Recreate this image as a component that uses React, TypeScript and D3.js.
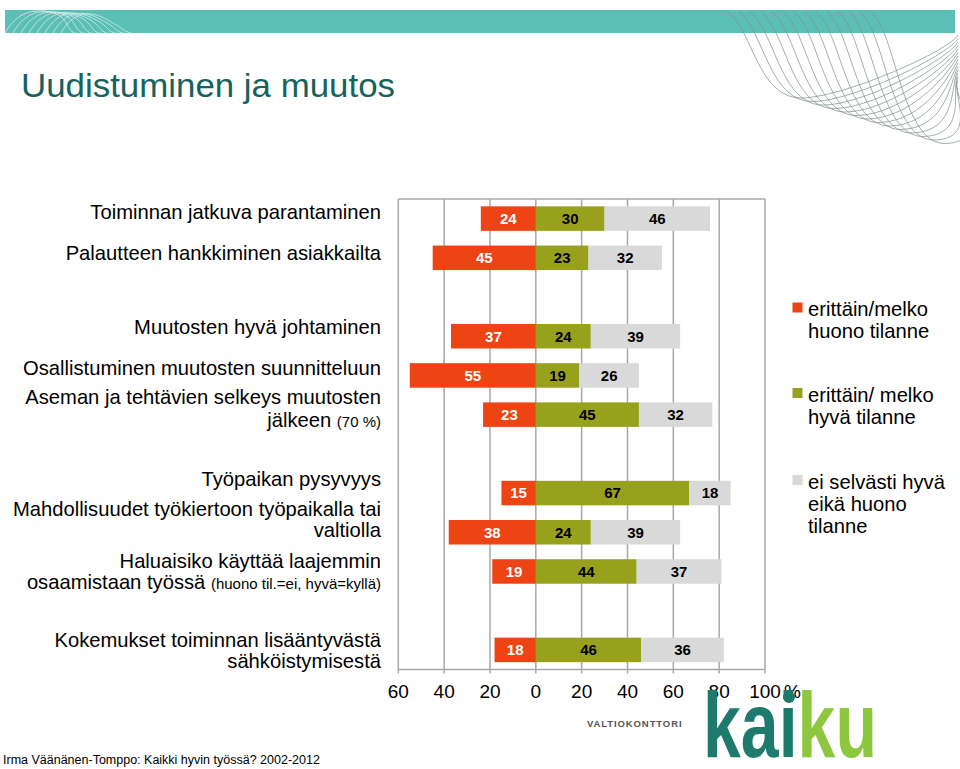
import React from "react";
import * as d3 from "d3";

// ---- data ----
const categoryLines: [string, string?][][] = [
  [["Toiminnan jatkuva parantaminen"]],
  [["Palautteen hankkiminen asiakkailta"]],
  [["Muutosten hyvä johtaminen"]],
  [["Osallistuminen muutosten suunnitteluun"]],
  [["Aseman ja tehtävien selkeys muutosten"], ["jälkeen ", "(70 %)"]],
  [["Työpaikan pysyvyys"]],
  [["Mahdollisuudet työkiertoon työpaikalla tai"], ["valtiolla"]],
  [["Haluaisiko käyttää laajemmin"], ["osaamistaan työssä ", "(huono til.=ei, hyvä=kyllä)"]],
  [["Kokemukset toiminnan lisääntyvästä"], ["sähköistymisestä"]],
];
const groupOf = [0, 0, 1, 1, 1, 2, 2, 2, 3];
const badValues = [24, 45, 37, 55, 23, 15, 38, 19, 18];
const goodValues = [30, 23, 24, 19, 45, 67, 24, 44, 46];
const neutralValues = [46, 32, 39, 26, 32, 18, 39, 37, 36];
const tickValues = [-60, -40, -20, 0, 20, 40, 60, 80, 100];
const legendLabels = [
  ["erittäin/melko", "huono tilanne"],
  ["erittäin/ melko", "hyvä tilanne"],
  ["ei selvästi hyvä", "eikä huono", "tilanne"],
];

// ---- layout / style ----
const labelDy = [0, 2, -2, 0, -10.5, -7.5, -16.5, -3, -3];
const lineGap = [0, 0, 0, 0, 22.5, 0, 21, 21, 21.5];
const colors = ["#EE4313", "#98A11C", "#D9D9D9"];
const FONT = "'Liberation Sans', Arial, Helvetica, sans-serif";

export default function App() {
  const x = d3.scaleLinear().domain([-60, 100]).range([398.3, 765]);
  const nSlots = categoryLines.length + groupOf[groupOf.length - 1];
  const y = d3
    .scaleBand<number>()
    .domain(d3.range(nSlots))
    .range([199, 669.5])
    .paddingInner(0.375)
    .paddingOuter(0.1875);
  const bw = y.bandwidth();
  const slot = (i: number) => i + groupOf[i];
  const top = 199;
  const bottom = 669.5;

  // decorative header waves
  const waves = d3.range(14).map((k) => {
    const x0 = 728 + k * 11;
    const yb = 60 + k * 3.5;
    return `M${x0},12 C${x0 + 25},30 ${x0 + 30},${yb + 40} ${x0 + 75},${yb + 38} S${950},${yb - 10} ${958},${yb - 25}`;
  });
  const leftWaves = d3.range(8).map((k) => {
    const x0 = 5 + k * 8;
    return `M${x0},33 C${x0 + 10},15 ${x0 + 25},8 ${x0 + 45},${12 + k} S${x0 + 60},30 ${x0 + 70},33`;
  });

  return (
    <svg
      width={960}
      height={769}
      style={{ position: "absolute", left: 0, top: 0, background: "#fff" }}
      fontFamily={FONT}
    >
      <rect x={0} y={0} width={960} height={769} fill="#fff" />
      {/* header */}
      <rect x={5} y={10} width={950} height={23} fill="#5CBFB6" />
      {leftWaves.map((d, i) => (
        <path key={"lw" + i} d={d} fill="none" stroke="#CFEDEA" strokeWidth={0.8} />
      ))}
      {waves.map((d, i) => (
        <path key={"w" + i} d={d} fill="none" stroke="#7F8F8D" strokeWidth={0.8} opacity={0.9} />
      ))}
      <text x={21} y={97} fontSize={34} fill="#16625E" textLength={374} lengthAdjust="spacingAndGlyphs">
        Uudistuminen ja muutos
      </text>

      {/* grid */}
      {tickValues.map((t) => (
        <line key={"g" + t} x1={x(t)} x2={x(t)} y1={top} y2={bottom + 4} stroke="#A8A8A8" strokeWidth={1.5} />
      ))}
      <line x1={x(-60)} x2={x(100)} y1={top} y2={top} stroke="#A8A8A8" strokeWidth={1.5} />
      <line x1={x(-60)} x2={x(100)} y1={bottom} y2={bottom} stroke="#A8A8A8" strokeWidth={1.5} />

      {/* bars */}
      {badValues.map((b, i) => {
        const yy = y(slot(i))!;
        const g = goodValues[i];
        const n = neutralValues[i];
        const cy = yy + bw / 2;
        const segs = [
          { x0: x(-b), x1: x(0), v: b, c: colors[0], tc: "#fff" },
          { x0: x(0), x1: x(g), v: g, c: colors[1], tc: "#000" },
          { x0: x(g), x1: x(g + n), v: n, c: colors[2], tc: "#000" },
        ];
        return (
          <g key={"b" + i}>
            {segs.map((s, j) => (
              <rect key={j} x={s.x0} y={yy} width={s.x1 - s.x0} height={bw} fill={s.c} />
            ))}
            {segs.map((s, j) => (
              <text
                key={"t" + j}
                x={(s.x0 + s.x1) / 2}
                y={cy + 5.3}
                textAnchor="middle"
                fontSize={15}
                fontWeight="bold"
                fill={s.tc}
              >
                {s.v}
              </text>
            ))}
          </g>
        );
      })}

      {/* category labels */}
      {categoryLines.map((lines, i) => {
        const cy = y(slot(i))! + bw / 2;
        return lines.map((ln, j) => (
          <text
            key={"c" + i + "-" + j}
            x={381}
            y={cy + labelDy[i] + j * lineGap[i]}
            textAnchor="end"
            fontSize={20.2}
            fill="#000"
          >
            {ln[0]}
            {ln[1] ? <tspan fontSize={15}>{ln[1]}</tspan> : null}
          </text>
        ));
      })}

      {/* x tick labels */}
      {tickValues.map((t) => (
        <text key={"tl" + t} x={x(t)} y={698} textAnchor="middle" fontSize={19} fill="#000">
          {Math.abs(t)}
        </text>
      ))}
      <text x={x(100) + 19} y={698} fontSize={19} fill="#000">%</text>

      {/* legend */}
      {legendLabels.map((lines, i) => {
        const sy = [302.5, 388, 475][i];
        return (
          <g key={"lg" + i}>
            <rect x={792.5} y={sy} width={10} height={10} fill={colors[i]} />
            {lines.map((l, j) => (
              <text key={j} x={808} y={sy + 13.5 + j * 22.3} fontSize={20.2} fill="#000">
                {l}
              </text>
            ))}
          </g>
        );
      })}

      {/* logo */}
      <text x={587} y={727} fontSize={9.5} fontWeight="bold" fill="#555" letterSpacing={0.9}>
        VALTIOKONTTORI
      </text>
      <text
        x={703}
        y={757}
        fontSize={92}
        fontWeight="bold"
        fill="#1E7A6D"
        textLength={174}
        lengthAdjust="spacingAndGlyphs"
      >
        kai
        <tspan fill="#8DC63F">ku</tspan>
      </text>
      <circle cx={789} cy={697} r={6} fill="#1E7A6D" />

      {/* footer */}
      <text x={3} y={764} fontSize={12.5} fill="#000">
        Irma Väänänen-Tomppo: Kaikki hyvin työssä? 2002-2012
      </text>
    </svg>
  );
}
